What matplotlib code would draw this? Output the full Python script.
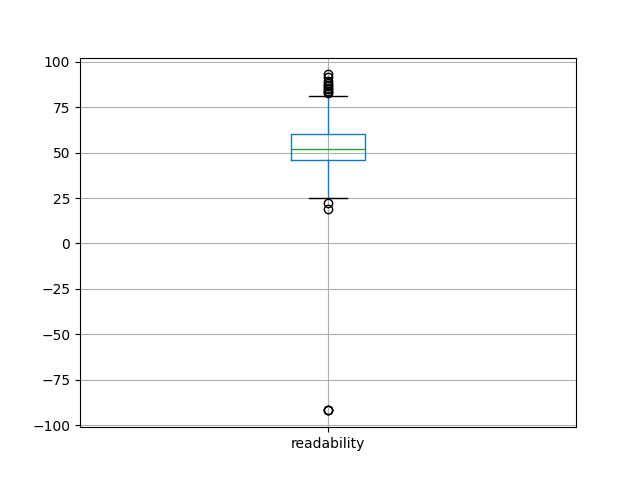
import matplotlib
matplotlib.use("Agg")
import matplotlib.pyplot as plt

label = "readability"
q1 = 46.0
median = 52.0
q3 = 60.2
whisker_low = 25.0
whisker_high = 81.3
fliers = [93.0, 91.5, 89.5, 88.0, 86.5, 85.0, 84.0, 83.2, 82.5, 85.5, 87.0,
          22.5, 19.0, -91.8, -91.8, -91.8]

fig, ax = plt.subplots(figsize=(6.4, 4.8), dpi=100)
stats = [dict(label=label, q1=q1, med=median, q3=q3, whislo=whisker_low,
              whishi=whisker_high, fliers=fliers)]
ax.bxp(stats, positions=[1], widths=0.15,
       boxprops=dict(color="#1f77b4"),
       whiskerprops=dict(color="#1f77b4"),
       medianprops=dict(color="#2ca02c"),
       capprops=dict(color="k"),
       flierprops=dict(marker="o", markeredgecolor="k", markerfacecolor="none"))
ax.set_xlim(0.5, 1.5)
ax.grid(True)
fig.savefig("out.png")
